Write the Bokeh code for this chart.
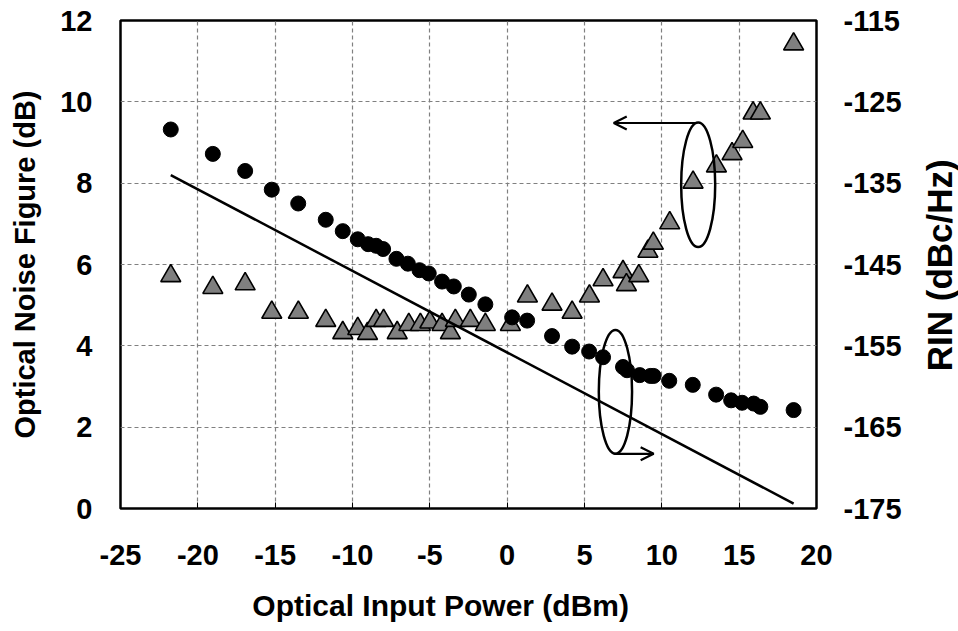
import math
from bokeh.plotting import figure
from bokeh.layouts import row, column
from bokeh.models import Range1d, LinearAxis, FixedTicker, Arrow, OpenHead, PrintfTickFormatter
from bokeh.core.properties import value
from bokeh.embed import file_html
from bokeh.resources import INLINE

# ---- data ----
tri_x = [-21.75, -19.03, -16.94, -15.22, -13.5, -11.73, -10.63, -9.66, -9.03, -8.47, -7.99,
         -7.11, -6.36, -5.61, -5.0, -4.21, -3.67, -3.35, -2.38, -1.41, 0.21, 1.31, 2.90, 4.20,
         5.32, 6.20, 7.49, 7.71, 8.51, 9.10, 9.45, 10.51, 12.02, 13.53, 14.54, 15.23, 15.90,
         16.37, 18.52]
tri_nf = [5.72, 5.43, 5.52, 4.82, 4.82, 4.62, 4.32, 4.42, 4.30, 4.62, 4.62,
          4.32, 4.52, 4.52, 4.58, 4.52, 4.32, 4.62, 4.62, 4.52, 4.52, 5.22, 5.02, 4.82,
          5.22, 5.62, 5.82, 5.50, 5.72, 6.32, 6.52, 7.02, 8.02, 8.42, 8.72, 9.02, 9.72,
          9.72, 11.42]

circ_x = [-21.75, -19.03, -16.94, -15.22, -13.51, -11.73, -10.63, -9.66, -8.99, -8.47, -8.02,
          -7.16, -6.42, -5.67, -5.07, -4.21, -3.45, -2.48, -1.41, 0.32, 1.29, 2.90, 4.20,
          5.30, 6.20, 7.49, 7.75, 8.57, 9.26, 9.47, 10.48, 12.0, 13.51, 14.48, 15.19, 15.94,
          16.37, 18.52]
circ_rin = [-128.4, -131.4, -133.5, -135.8, -137.5, -139.5, -140.9, -141.9, -142.5, -142.7, -143.1,
            -144.3, -144.9, -145.7, -146.1, -147.1, -147.7, -148.7, -149.9, -151.5, -151.9, -153.8, -155.1,
            -155.7, -156.4, -157.6, -158.0, -158.6, -158.7, -158.7, -159.3, -159.8, -161.0, -161.7, -162.0, -162.1,
            -162.5, -162.9]

line_x = [-21.75, 18.52]
line_rin = [-134.0, -174.4]

x_ticks = [-25, -20, -15, -10, -5, 0, 5, 10, 15, 20]
nf_ticks = [0, 2, 4, 6, 8, 10, 12]
rin_ticks = [-175, -165, -155, -145, -135, -125, -115]

x_title = "Optical Input Power (dBm)"
y_title = "Optical Noise Figure (dB)"
y2_title = "RIN (dBc/Hz)"

# annotation geometry (left-axis units)
ell_x = [12.35, 7.0]
ell_y = [7.96, 2.87]
ell_w = [2.2, 2.15]
ell_h = [3.07, 3.05]

FONT = "Liberation Sans"

# ---------------- main plot ----------------
p = figure(width=920, height=581, x_range=Range1d(-25, 20), y_range=Range1d(0, 12),
           output_backend="svg", toolbar_location=None,
           min_border_left=120, min_border_right=104, min_border_top=20, min_border_bottom=73)
p.extra_y_ranges = {"rin": Range1d(-175, -115)}

p.outline_line_color = "black"
p.outline_line_width = 2.5

p.xgrid.ticker = FixedTicker(ticks=x_ticks)
p.ygrid.ticker = FixedTicker(ticks=nf_ticks)
for g in (p.xgrid, p.ygrid):
    g.grid_line_color = "#808080"
    g.grid_line_dash = "4 3"
    g.grid_line_width = 1.2

xa = p.xaxis[0]
xa.ticker = FixedTicker(ticks=x_ticks)
xa.major_tick_in = 6
xa.major_tick_out = 0
xa.major_label_standoff = 36

ya = p.yaxis[0]
ya.ticker = FixedTicker(ticks=nf_ticks)
ya.axis_label = y_title
ya.major_tick_in = 0
ya.major_tick_out = 0
ya.major_label_standoff = 28
ya.axis_label_standoff = 16

ra = LinearAxis(y_range_name="rin", ticker=FixedTicker(ticks=rin_ticks))
ra.major_tick_in = 0
ra.major_tick_out = 0
ra.major_label_standoff = 27
p.add_layout(ra, "right")

for a in (xa, ya, ra):
    a.formatter = PrintfTickFormatter(format="%d")
    a.axis_line_color = None
    a.minor_tick_line_color = None
    a.major_label_text_font = FONT
    a.major_label_text_font_style = "bold"
    a.major_label_text_font_size = "29px"
    a.major_label_text_color = "black"
    a.axis_label_text_font = FONT
    a.axis_label_text_font_style = "bold"
    a.axis_label_text_font_size = "29px"
    a.axis_label_text_color = "black"

p.scatter(tri_x, tri_nf, marker="triangle", size=20, fill_color="#7f7f7f",
          line_color="black", line_width=1.6)
p.line(line_x, line_rin, y_range_name="rin", line_color="black", line_width=2.5)
p.scatter(circ_x, circ_rin, y_range_name="rin", marker="circle", size=15,
          fill_color="black", line_color="black")

p.ellipse(x=ell_x, y=ell_y, width=ell_w, height=ell_h, fill_color=None,
          line_color="black", line_width=2.5)
p.add_layout(Arrow(end=OpenHead(size=13, line_width=2.2), x_start=12.28, y_start=9.48,
                   x_end=6.89, y_end=9.48, line_width=2.2))
p.add_layout(Arrow(end=OpenHead(size=13, line_width=2.2), x_start=6.93, y_start=1.345,
                   x_end=9.47, y_end=1.345, line_width=2.2))

# ---------------- right title strip ----------------
q = figure(width=38, height=581, x_range=Range1d(0, 1), y_range=Range1d(-175, -115),
           x_axis_type=None, y_axis_type=None, output_backend="svg", toolbar_location=None,
           min_border_left=0, min_border_right=0, min_border_top=20, min_border_bottom=73)
q.outline_line_color = None
q.text(x=[0.5], y=[-145.1], text=[y2_title], angle=math.pi / 2, text_font=value(FONT),
       text_font_style="bold", text_font_size="35px", text_align="center",
       text_baseline="middle", text_color="black")

# ---------------- bottom title strip ----------------
r = figure(width=958, height=50, x_range=p.x_range, y_range=Range1d(0, 1),
           x_axis_type=None, y_axis_type=None, output_backend="svg", toolbar_location=None,
           min_border_left=120, min_border_right=142, min_border_top=0, min_border_bottom=0)
r.outline_line_color = None
r.text(x=[-4.3], y=[0.52], text=[x_title], text_font=value(FONT), text_font_style="bold",
       text_font_size="30px", text_align="center", text_baseline="middle", text_color="black")

layout = column(row(p, q, spacing=0), r, spacing=0)
open("out.html", "w").write(file_html(layout, INLINE))
